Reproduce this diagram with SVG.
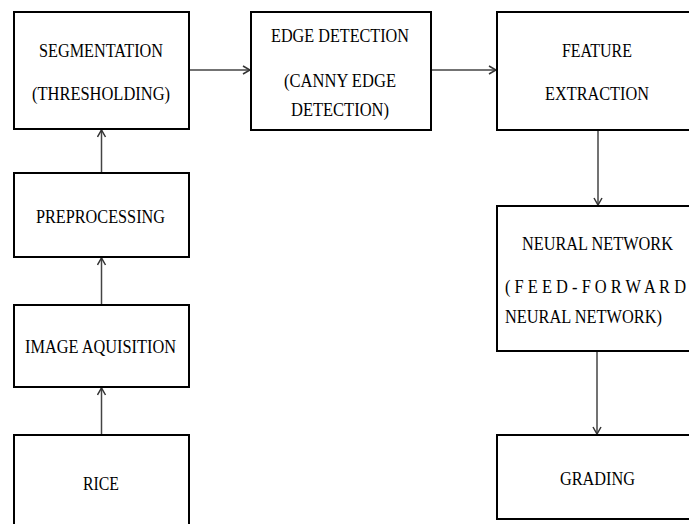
<svg xmlns="http://www.w3.org/2000/svg" width="689" height="524" viewBox="0 0 689 524">
<style>
.box{fill:#fff;stroke:#000;stroke-width:2}
.t{font-family:"Liberation Serif","Times New Roman",serif;font-size:19px;fill:#000}
.c{fill:none;stroke:#444;stroke-width:1.5}
</style>
<defs>
<marker id="ah" viewBox="0 0 10 10" refX="9" refY="5" markerWidth="10" markerHeight="10" markerUnits="userSpaceOnUse" orient="auto">
<polyline points="2,1 9,5 2,9" fill="none" stroke="#333" stroke-width="1.5"/>
</marker>
</defs>
<rect width="689" height="524" fill="#fff"/>
<g id="connectors">
<line class="c" x1="189" y1="70" x2="250" y2="70" marker-end="url(#ah)"/>
<line class="c" x1="431" y1="70" x2="496" y2="70" marker-end="url(#ah)"/>
<line class="c" x1="598" y1="130" x2="598" y2="205" marker-end="url(#ah)"/>
<line class="c" x1="597" y1="351" x2="597" y2="434" marker-end="url(#ah)"/>
<line class="c" x1="101.5" y1="173" x2="101.5" y2="130" marker-end="url(#ah)"/>
<line class="c" x1="101.5" y1="305" x2="101.5" y2="258" marker-end="url(#ah)"/>
<line class="c" x1="101.5" y1="435" x2="101.5" y2="388" marker-end="url(#ah)"/>
</g>
<g id="segmentation">
<rect class="box" x="14" y="12" width="175" height="117"/>
<text class="t" x="39" y="57" textLength="124" lengthAdjust="spacingAndGlyphs">SEGMENTATION</text>
<text class="t" x="32" y="100" textLength="138" lengthAdjust="spacingAndGlyphs">(THRESHOLDING)</text>
</g>
<g id="preprocessing">
<rect class="box" x="14" y="173" width="175" height="84"/>
<text class="t" x="36" y="223" textLength="129" lengthAdjust="spacingAndGlyphs">PREPROCESSING</text>
</g>
<g id="image-aquisition">
<rect class="box" x="14" y="305" width="175" height="82"/>
<text class="t" x="25" y="353" textLength="151" lengthAdjust="spacingAndGlyphs">IMAGE AQUISITION</text>
</g>
<g id="rice">
<rect class="box" x="14" y="435" width="175" height="100"/>
<text class="t" x="83" y="490" textLength="36" lengthAdjust="spacingAndGlyphs">RICE</text>
</g>
<g id="edge-detection">
<rect class="box" x="251" y="12" width="180" height="118"/>
<text class="t" x="271" y="42" textLength="138" lengthAdjust="spacingAndGlyphs">EDGE DETECTION</text>
<text class="t" x="284" y="87" textLength="112" lengthAdjust="spacingAndGlyphs">(CANNY EDGE</text>
<text class="t" x="291" y="116" textLength="98" lengthAdjust="spacingAndGlyphs">DETECTION)</text>
</g>
<g id="feature-extraction">
<rect class="box" x="497" y="12" width="210" height="118"/>
<text class="t" x="562" y="57" textLength="70" lengthAdjust="spacingAndGlyphs">FEATURE</text>
<text class="t" x="545" y="100" textLength="104" lengthAdjust="spacingAndGlyphs">EXTRACTION</text>
</g>
<g id="neural-network">
<rect class="box" x="497" y="206" width="210" height="145"/>
<text class="t" x="522" y="250" textLength="151" lengthAdjust="spacingAndGlyphs">NEURAL NETWORK</text>
<text class="t" x="505" y="293" textLength="181" lengthAdjust="spacingAndGlyphs">( F E E D - F O R W A R D</text>
<text class="t" x="505" y="323" textLength="157" lengthAdjust="spacingAndGlyphs">NEURAL NETWORK)</text>
</g>
<g id="grading">
<rect class="box" x="497" y="435" width="210" height="84"/>
<text class="t" x="560" y="485" textLength="75" lengthAdjust="spacingAndGlyphs">GRADING</text>
</g>
</svg>
